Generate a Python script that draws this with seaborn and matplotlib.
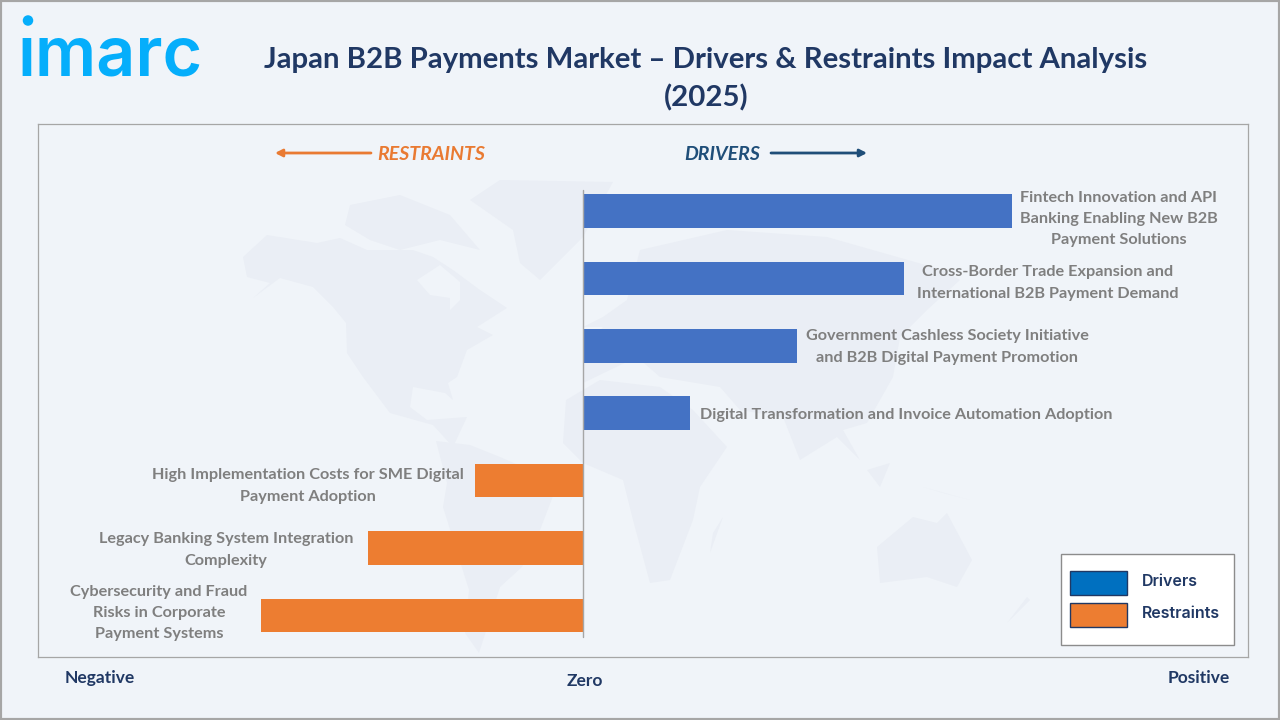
import matplotlib
matplotlib.use("Agg")
import matplotlib.pyplot as plt
import pandas as pd
import seaborn as sns
from matplotlib.patches import Ellipse, Polygon, Rectangle

# ================================
# DATA
# ================================
categories = [
    "Fintech Innovation and API\nBanking Enabling New B2B\nPayment Solutions",
    "Cross-Border Trade Expansion and\nInternational B2B Payment Demand",
    "Government Cashless Society Initiative\nand B2B Digital Payment Promotion",
    "Digital Transformation and Invoice Automation Adoption",
    "High Implementation Costs for SME Digital\nPayment Adoption",
    "Legacy Banking System Integration\nComplexity",
    "Cybersecurity and Fraud\nRisks in Corporate\nPayment Systems",
]
impact = [4, 3, 2, 1, -1, -2, -3]
kinds = ["Drivers", "Drivers", "Drivers", "Drivers", "Restraints", "Restraints", "Restraints"]
label_centers = [1119, 1048, 947, 906, 308, 226, 159]

title = "Japan B2B Payments Market \u2013 Drivers & Restraints Impact Analysis\n(2025)"

BG = "#F0F4F9"
NAVY = "#203864"
BLUE = "#4472C4"
ORANGE = "#ED7D31"
GREY = "#7F7F7F"
LAND = "#EAEEF5"
LOGO = "#05AEFB"

W, H = 1280, 720
ZERO_X = 582.6

sns.set_theme(style="white")
plt.rcParams["font.family"] = ["Lato", "DejaVu Sans"]

fig = plt.figure(figsize=(12.8, 7.2), dpi=100, facecolor=BG)


def px(x, y):
    # pixel position in the reference -> figure fraction
    return x / W, 1 - y / H


# outer border
fig.add_artist(Rectangle((0, 0), 1, 1, transform=fig.transFigure, fill=False,
                         edgecolor="#A6A6A6", linewidth=3))

# ================================
# MAIN PANEL
# ================================
left, top, right, bottom = 38, 124, 1248, 657
ax = fig.add_axes([left / W, 1 - bottom / H, (right - left) / W, (bottom - top) / H])
ax.set_facecolor(BG)

df = pd.DataFrame({"category": categories, "impact": impact, "kind": kinds})
sns.barplot(data=df, y="category", x="impact", hue="kind",
            palette={"Drivers": BLUE, "Restraints": ORANGE},
            dodge=False, width=0.5, legend=False, saturation=1, linewidth=0, ax=ax, zorder=3)

unit = 107.25
step = 67.4
ax.set_xlim((left - ZERO_X) / unit, (right - ZERO_X) / unit)
ax.set_ylim((bottom - 211) / step, (top - 211) / step)
ax.set_xticks([])
ax.set_yticks([])
ax.set_xlabel("")
ax.set_ylabel("")
for s in ax.spines.values():
    s.set_color("#A6A6A6")
    s.set_linewidth(0.9)

ax.plot([0, 0], [(637 - 211) / step, (190 - 211) / step], color="#A6A6A6", lw=1, zorder=4)


# faint world map behind the bars, outlines traced in reference pixels
def add_land(pts, color=LAND, z=1):
    xy = [((x - ZERO_X) / unit, (y - 211) / step) for x, y in pts]
    ax.add_patch(Polygon(xy, closed=True, facecolor=color, edgecolor="none", zorder=z))


north_america = [(243, 257), (267, 235), (317, 243), (340, 238), (367, 250), (413, 250), (433, 257),
                 (453, 270), (480, 290), (507, 308), (477, 327), (493, 335), (467, 350), (457, 377),
                 (448, 383), (453, 400), (445, 393), (413, 387), (410, 407), (427, 420), (467, 417),
                 (453, 447), (433, 425), (390, 413), (363, 377), (347, 353), (346, 323), (333, 307),
                 (313, 287), (280, 278), (253, 298), (270, 283), (247, 277)]
hudson_bay = [(417, 280), (440, 265), (460, 282), (460, 300), (450, 310), (450, 298), (430, 295)]
arctic = [(345, 225), (350, 205), (400, 195), (450, 215), (480, 250), (440, 240), (400, 250), (370, 240)]
greenland = [(470, 200), (500, 180), (613, 182), (583, 237), (540, 280), (520, 263), (513, 230)]
south_america = [(436, 441), (470, 445), (500, 457), (530, 470), (558, 483), (540, 530), (522, 567),
                 (500, 587), (479, 653), (465, 633), (469, 590), (443, 507), (447, 483)]
eurasia = [(583, 327), (603, 317), (627, 300), (640, 250), (727, 230), (827, 237), (943, 270), (960, 280),
           (927, 310), (900, 337), (893, 377), (867, 423), (843, 430), (860, 460), (837, 437), (800, 460),
           (783, 417), (740, 410), (720, 387), (660, 377), (637, 357), (583, 383), (583, 350), (603, 327)]
africa = [(566, 400), (600, 380), (660, 387), (693, 410), (727, 447), (700, 487), (693, 520), (670, 580),
          (650, 583), (633, 520), (623, 480), (583, 463), (563, 443)]
australia = [(877, 547), (913, 517), (937, 523), (947, 513), (972, 560), (957, 587), (927, 577), (880, 583)]
madagascar = [(723, 517), (710, 553), (713, 533)]
borneo = [(867, 470), (890, 463), (880, 487)]
indonesia = [(923, 487), (970, 500), (943, 493)]
new_zealand = [(1027, 597), (1007, 623), (1030, 600)]

for shape in [north_america, arctic, greenland, south_america, eurasia, africa, australia,
              madagascar, borneo, indonesia, new_zealand]:
    add_land(shape)
add_land(hudson_bay, color=BG, z=2)

# ================================
# BAR LABELS
# ================================
label_y = [219, 283, 347, 415, 486, 550, 613]
for txt, cx, cy in zip(categories, label_centers, label_y):
    ax.text((cx - ZERO_X) / unit, (cy - 211) / step, txt, ha="center", va="center",
            fontsize=11.7, fontweight="bold", color=GREY, linespacing=1.66, zorder=5)

# ================================
# HEADER
# ================================
fx, fy = px(706, 79)
fig.text(fx, fy, title, ha="center", va="center", fontsize=21.2, fontweight="bold",
         color=NAVY, linespacing=1.5)

# logo: dotless i plus a separate raised dot
fx, fy = px(110, 75.5)
fig.text(fx, fy, "\u0131marc", ha="center", va="baseline", fontsize=49, fontweight="semibold",
         color=LOGO, family=["Inter", "DejaVu Sans"])
fig.add_artist(Ellipse(px(28, 20.5), 10.5 / W, 10.5 / H, transform=fig.transFigure,
                       facecolor=LOGO, edgecolor="none"))

# direction markers
fx, fy = px(431, 155)
fig.text(fx, fy, "RESTRAINTS", ha="center", va="center", fontsize=14, fontweight="bold",
         style="italic", color="#E97A32")
fx, fy = px(722, 155)
fig.text(fx, fy, "DRIVERS", ha="center", va="center", fontsize=14, fontweight="bold",
         style="italic", color="#1F4E79")
arrow_style = "-|>,head_length=0.35,head_width=0.18"
ax.annotate("", xy=px(275, 153), xytext=px(371, 153), xycoords="figure fraction",
            textcoords="figure fraction",
            arrowprops=dict(arrowstyle=arrow_style, color="#E97A32", lw=2, shrinkA=0, shrinkB=0))
ax.annotate("", xy=px(867, 153), xytext=px(771, 153), xycoords="figure fraction",
            textcoords="figure fraction",
            arrowprops=dict(arrowstyle=arrow_style, color="#1F4E79", lw=2, shrinkA=0, shrinkB=0))

# axis end words
for word, x, y in [("Negative", 100, 678), ("Zero", 585, 681), ("Positive", 1199, 678)]:
    fx, fy = px(x, y)
    fig.text(fx, fy, word, ha="center", va="center", fontsize=12.5, fontweight="bold", color=NAVY)

# ================================
# LEGEND BOX
# ================================
fig.add_artist(Rectangle(px(1061, 645), 173 / W, 91 / H, transform=fig.transFigure,
                         facecolor="white", edgecolor="#8C8C8C", linewidth=1, zorder=6))
for name, color, y in [("Drivers", "#0070C0", 583), ("Restraints", ORANGE, 615)]:
    fig.add_artist(Rectangle(px(1070, y + 12), 57 / W, 24 / H, transform=fig.transFigure,
                             facecolor=color, edgecolor=NAVY, linewidth=1, zorder=7))
    fx, fy = px(1142, y - 1.5)
    fig.text(fx, fy, name, ha="left", va="center", fontsize=11.5, fontweight="semibold",
             color=NAVY, zorder=8, family=["Inter", "DejaVu Sans"])

fig.savefig("out.png", dpi=100, facecolor=BG)
